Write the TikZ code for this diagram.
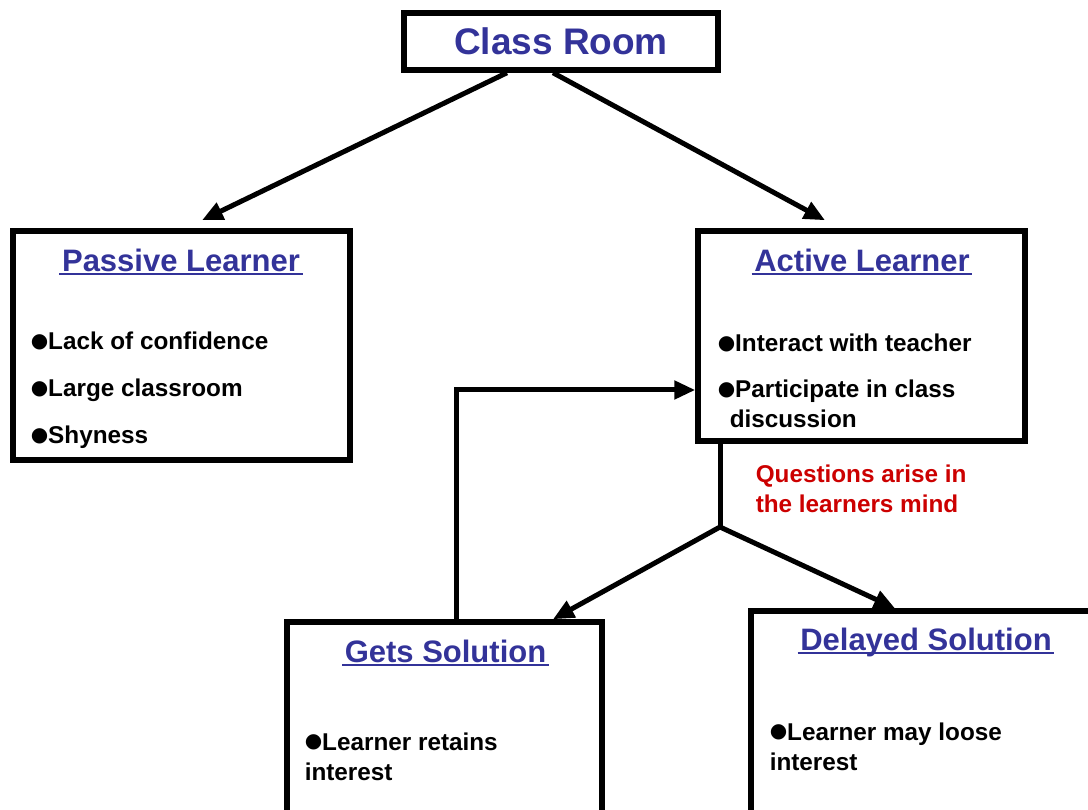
\documentclass[tikz,border=0pt]{standalone}
\usepackage{fontspec}
\setmainfont{Liberation Sans}
\newfontfamily\symfont{DejaVu Sans}
\usetikzlibrary{arrows.meta,positioning}
\definecolor{ttlblue}{RGB}{51,51,153}
\definecolor{qred}{RGB}{204,0,0}
\newcommand{\bul}{\raisebox{2.5pt}{\symfont\fontsize{20}{20}\selectfont ●}}

\begin{document}
\begin{tikzpicture}[x=1pt, y=-1pt, line width=5.5pt,
  >={Triangle[length=21pt,width=18pt]},
  box/.style={draw, rectangle, inner sep=0pt},
  ttl/.style={inner sep=0pt, anchor=base, text=ttlblue,
    font=\bfseries\fontsize{31}{31}\selectfont},
  item/.style={inner sep=0pt, anchor=base west, align=left,
    font=\bfseries\fontsize{24.3}{30}\selectfont},
  uline/.style={draw=ttlblue, line width=2pt},
  arr/.style={->, line width=5pt}]

\useasboundingbox (0,0) rectangle (1088,810);
\clip (0,0) rectangle (1088,810);

% boxes
\node[box, minimum width=314pt, minimum height=57pt, text=ttlblue,
  font=\bfseries\fontsize{37}{37}\selectfont] (cr) at (561,41.5) {Class Room};
\node[box, minimum width=337pt, minimum height=229pt] (pl) at (181.5,345.5) {};
\node[box, minimum width=327pt, minimum height=210pt] (al) at (861.5,336) {};
\node[box, minimum width=315pt, minimum height=218pt] (gs) at (444.5,731) {};
\node[box, minimum width=350pt, minimum height=229pt] (ds) at (926,725.5) {};

% titles
\node[ttl] (plt) at (181,272) {Passive Learner};
\node[ttl] (alt) at (862,272) {Active Learner};
\node[ttl] (gst) at (445.5,662) {Gets Solution};
\node[ttl] (dst) at (926,650) {Delayed Solution};
\foreach \t in {plt,alt,gst,dst}
  \draw[uline] ([yshift=-2.5pt]\t.base west) -- ([yshift=-2.5pt]\t.base east);

% bullet points (multi-line: placed by last baseline)
\node[item] (pl1) at (28,350) {\bul Lack of confidence};
\node[item] (pl2) at (28,397) {\bul Large classroom};
\node[item] (pl3) at (28,444) {\bul Shyness};
\node[item] (al1) at (715,352) {\bul Interact with teacher};
\node[item] (al2) at (715,428) {\bul Participate in class\\\hspace*{12pt}discussion};
\node[item] (gs1) at (302,780) {\bul Learner retains\\interest};
\node[item] (ds1) at (767,770) {\bul Learner may loose\\interest};
\node[item, text=qred] (qa) at (753,512) {Questions arise in\\the learners mind};

% connectors
\draw[arr] ([xshift=-54pt]cr.south) -- ([xshift=20.5pt,yshift=8pt]pl.north);
\draw[arr] ([xshift=-8pt]cr.south) -- ([xshift=-36.5pt,yshift=8pt]al.north);
\coordinate (jn) at (720,527);
\draw[line width=5pt] (al.south -| jn) -- (jn);
\draw[arr] (jn) -- ([xshift=108.5pt]gs.north);
\draw[arr] (jn) -- ([xshift=-31pt]ds.north);
\draw[arr] ([xshift=11.5pt]gs.north) |- ([yshift=-54pt]al.west);

\end{tikzpicture}
\end{document}
